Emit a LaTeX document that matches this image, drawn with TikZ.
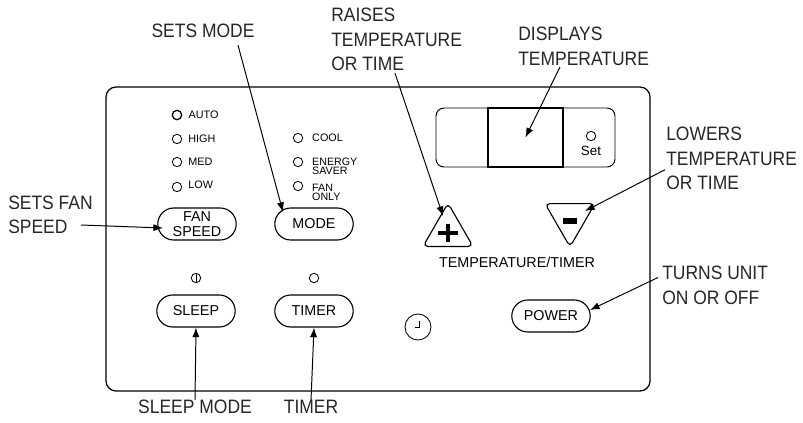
\documentclass[tikz,border=0pt]{standalone}
\usepackage{fontspec}
\setmainfont{Liberation Sans}
\newfontfamily\calloutfont{Liberation Sans}[FakeStretch=0.9]
\usetikzlibrary{arrows.meta,positioning,calc,shapes.misc,shapes.geometric}

\begin{document}
\begin{tikzpicture}[x=0.025cm, y=-0.025cm, >={Latex[length=2.4mm,width=1.8mm]},
  callout/.style={font=\calloutfont\fontsize{13.8}{17.4}\selectfont, align=left, inner sep=0pt, text=black!85},
  callarrow/.style={->, line width=0.7pt},
  btn/.style={draw, rounded rectangle, line width=0.8pt, minimum width=2.03cm, minimum height=0.8cm,
    inner sep=1pt, align=center, font=\fontsize{10.2}{10.7}\selectfont},
  led/.style={draw, circle, line width=0.6pt, minimum size=0.235cm, inner sep=0pt},
  ledlbl/.style={inner sep=0pt, font=\fontsize{7.7}{9}\selectfont},
  ledlbltwo/.style={inner sep=0pt, align=left, font=\fontsize{7.6}{6.4}\selectfont},
  tribtn/.style={draw, regular polygon, regular polygon sides=3, minimum size=1.443cm, inner sep=0pt,
    rounded corners=0.12cm, line width=0.8pt}]
  \useasboundingbox (0,0) rectangle (803,422);
  % control panel
  \draw[line width=0.9pt, rounded corners=0.25cm] (106,87) rectangle (650,391);

  % fan speed LEDs
  \node[led, line width=0.9pt] (ledauto) at (177,115) {};
  \node[led] (ledhigh) at (177,139) {};
  \node[led] (ledmed) at (177,162) {};
  \node[led] (ledlow) at (177,187) {};
  \node[ledlbl, right=0.15cm of ledauto] (lblauto) {AUTO};
  \node[ledlbl, right=0.15cm of ledhigh] (lblhigh) {HIGH};
  \node[ledlbl, right=0.15cm of ledmed] (lblmed) {MED};
  \node[ledlbl, right=0.15cm of ledlow, yshift=0.05cm] (lbllow) {LOW};

  % mode LEDs
  \node[led] (ledcool) at (298,138) {};
  \node[led] (ledenergy) at (298,162) {};
  \node[led] (ledfan) at (298,186) {};
  \node[ledlbl, right=0.22cm of ledcool] (lblcool) {COOL};
  \node[ledlbltwo, right=0.22cm of ledenergy, yshift=-0.1cm] (lblenergy) {ENERGY\\SAVER};
  \node[ledlbltwo, right=0.22cm of ledfan, yshift=-0.15cm] (lblfan) {FAN\\ONLY};

  % buttons
  \node[btn] (fanbtn) at (197,224) {FAN\\SPEED};
  \node[btn] (modebtn) at (314,224) {MODE};
  \node[btn] (sleepbtn) at (196,311) {SLEEP};
  \node[btn] (timerbtn) at (314,311) {TIMER};
  \node[btn] (powerbtn) at (551,316) {POWER};

  \node[led] (ledsleep) at (196,278) {};
  \draw[line width=0.6pt] (ledsleep.north) -- (ledsleep.south);
  \node[led] (ledtimer) at (314,278) {};

  \node[led, minimum size=0.65cm] (clockbtn) at (418,327) {};
  \draw[line width=0.5pt] ($(clockbtn)+(1,-6)$) -- ($(clockbtn)+(1,0)$) -- ($(clockbtn)+(-3,0)$);

  % temperature / timer keys
  \node[tribtn] (plusbtn) at (448,232) {};
  \draw[line width=2.5pt] ($(plusbtn)+(-10,1)$) -- ($(plusbtn)+(10,1)$);
  \draw[line width=2.5pt] ($(plusbtn)+(0,-8)$) -- ($(plusbtn)+(0,10)$);
  \node[tribtn, shape border rotate=180] (minusbtn) at (570,218) {};
  \draw[line width=4.2pt] ($(minusbtn)+(-7,3)$) -- ($(minusbtn)+(7,3)$);
  \node[inner sep=0pt, font=\fontsize{10.2}{12}\selectfont] (tmplbl) at (517,262) {TEMPERATURE/TIMER};

  % display
  \draw[line width=0.7pt, rounded corners=0.2cm] (436,108) rectangle (615,167);
  \node[draw, line width=0.9pt, minimum width=1.875cm, minimum height=1.475cm, inner sep=0pt] (dispwin) at (525.5,137.5) {};
  \node[led] (ledset) at (591,136) {};
  \node[inner sep=0pt, font=\fontsize{9.5}{10}\selectfont, below=0.12cm of ledset] (setlbl) {Set};

  % callouts
  \node[callout] (setsmode) at (203,31) {SETS MODE};
  \node[callout, anchor=west] (raises) at (331,39.5) {RAISES\\TEMPERATURE\\OR TIME};
  \node[callout, anchor=west] (displays) at (518,46.5) {DISPLAYS\\TEMPERATURE};
  \node[callout, anchor=west] (lowers) at (666,158.7) {LOWERS\\TEMPERATURE\\OR TIME};
  \node[callout, anchor=west] (turns) at (662,285.5) {TURNS UNIT\\ON OR OFF};
  \node[callout, anchor=west] (setsfan) at (8,215) {SETS FAN\\SPEED};
  \node[callout] (sleepmode) at (195,407) {SLEEP MODE};
  \node[callout] (timerlbl) at (311,407) {TIMER};

  \draw[callarrow] ($(setsmode.south)+(35,7)$) -- ($(modebtn)+(-31,-12)$);
  \draw[callarrow] ($(setsfan.east)+(-12,10)$) -- ($(fanbtn)+(-34,4)$);
  \draw[callarrow] ($(raises.south west)+(64,2)$) -- ($(plusbtn)+(-5,-16)$);
  \draw[callarrow] ($(displays.south west)+(42,1)$) -- (dispwin.center);
  \draw[callarrow] ($(lowers.west)+(-1,11)$) -- ($(minusbtn)+(15,-7)$);
  \draw[callarrow] ($(turns.west)+(-4,-8)$) -- ($(powerbtn)+(39,-6)$);
  \draw[callarrow] (sleepmode.north) -- (sleepbtn.south);
  \draw[callarrow] (timerlbl.north) -- (timerbtn.south);
\end{tikzpicture}
\end{document}
